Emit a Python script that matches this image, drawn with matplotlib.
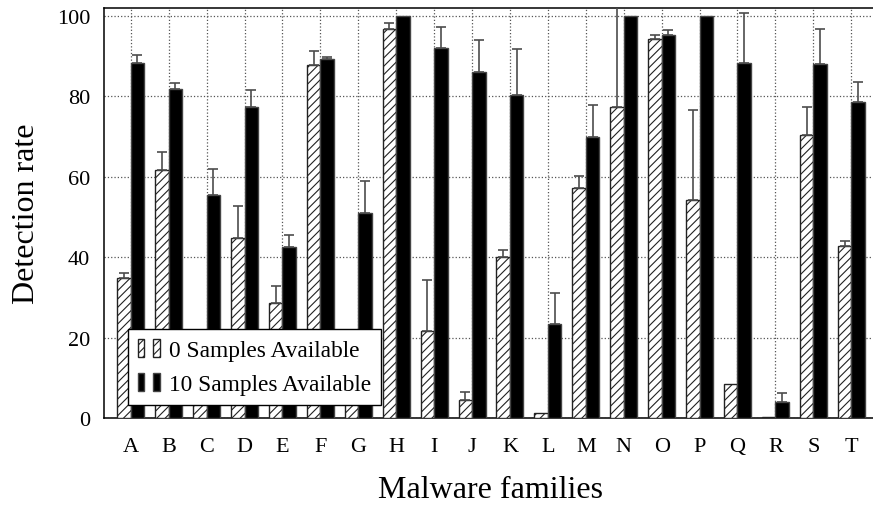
import numpy as np
import matplotlib
matplotlib.use("Agg")
from matplotlib import pyplot as plt
from matplotlib.patches import Rectangle
from matplotlib.legend_handler import HandlerBase

plt.rcParams['font.family'] = ['Liberation Serif', 'DejaVu Serif']
plt.rcParams['hatch.linewidth'] = 0.8

families = list("ABCDEFGHIJKLMNOPQRST")
# detection rate with 0 samples available, and upper error
rate_0 = [34.8, 61.6, 12.0, 44.9, 28.5, 87.7, 10.0, 96.7, 21.6, 4.6,
          40.1, 1.2, 57.2, 77.3, 94.4, 54.2, 8.5, 0.2, 70.3, 42.9]
err_0 = [1.2, 4.6, 3.0, 7.9, 4.4, 3.7, 3.0, 1.5, 12.8, 1.9,
         1.8, 0.0, 2.9, 30.0, 1.0, 22.5, 0.0, 0.0, 7.0, 1.2]
# detection rate with 10 samples available, and upper error
rate_10 = [88.2, 81.9, 55.6, 77.3, 42.5, 89.3, 51.1, 100.0, 92.1, 86.2,
           80.3, 23.4, 69.8, 100.0, 95.4, 100.0, 88.3, 4.1, 88.1, 78.7]
err_10 = [2.1, 1.5, 6.3, 4.4, 3.1, 0.6, 7.9, 0.0, 5.2, 7.9,
          11.5, 7.7, 8.0, 0.0, 1.2, 0.0, 12.4, 2.2, 8.8, 5.0]


class TwoBars(HandlerBase):
    # legend image made of two small bars, like pgfplots ybar legend
    def create_artists(self, legend, orig_handle, xdescent, ydescent,
                       width, height, fontsize, trans):
        bw = width * 0.3
        out = []
        for x0 in (0, width - bw):
            r = Rectangle((x0 - xdescent, -ydescent), bw, height,
                          facecolor=orig_handle.get_facecolor(),
                          edgecolor=orig_handle.get_edgecolor(),
                          hatch=orig_handle.get_hatch(),
                          linewidth=orig_handle.get_linewidth(),
                          transform=trans)
            out.append(r)
        return out


def draw_errors(ax, xs, ys, errs):
    xs, ys, errs = np.asarray(xs), np.asarray(ys), np.asarray(errs)
    m = errs > 0
    ax.errorbar(xs[m], ys[m], yerr=[np.zeros(m.sum()), errs[m]], fmt='none',
                ecolor='#4d4d4d', elinewidth=1.2, capsize=3.8, capthick=1.2,
                zorder=4)


fig = plt.figure(figsize=(8.73, 5.06), dpi=100)
ax = fig.add_axes([104 / 873, 87 / 506, 774 / 873, 410 / 506])

x = np.arange(len(families))
w = 0.355
ax.bar(x - w / 2, rate_0, w, color='white', edgecolor='#222222',
       hatch='////', linewidth=1.0, zorder=3)
ax.bar(x + w / 2, rate_10, w, color='black', edgecolor='#444444',
       linewidth=1.0, zorder=3)
draw_errors(ax, x - w / 2, rate_0, err_0)
draw_errors(ax, x + w / 2, rate_10, err_10)

ax.set_xlim(-0.705, len(families) - 1 + 0.705)
ax.set_ylim(0, 102)
ax.set_yticks(range(0, 101, 20))
ax.set_xticks(x)
ax.set_xticklabels(families)
ax.tick_params(axis='both', length=0, labelsize=16)
ax.tick_params(axis='x', pad=14)
ax.tick_params(axis='y', pad=10)
ax.grid(True, linestyle=':', color='#555555', linewidth=0.9)
ax.set_axisbelow(True)
for s in ax.spines.values():
    s.set_linewidth(1.1)
    s.set_color('black')

ax.set_ylabel("Detection rate", fontsize=23, labelpad=11)
ax.set_xlabel("Malware families", fontsize=23, labelpad=13.5)

h0 = Rectangle((0, 0), 1, 1, facecolor='white', edgecolor='#222222',
               hatch='////', linewidth=1.0)
h10 = Rectangle((0, 0), 1, 1, facecolor='black', edgecolor='#444444',
                linewidth=1.0)
leg = ax.legend([h0, h10], ["0 Samples Available", "10 Samples Available"],
                handler_map={Rectangle: TwoBars()},
                loc='lower left', bbox_to_anchor=(24 / 774, 13 / 410),
                borderaxespad=0, fontsize=16.8, handlelength=0.95,
                handleheight=0.85, handletextpad=0.4, labelspacing=0.5,
                borderpad=0.42, fancybox=False, framealpha=1,
                edgecolor='black')
leg.get_frame().set_linewidth(1.0)
leg.set_zorder(5)

fig.savefig("out.png", dpi=100)
